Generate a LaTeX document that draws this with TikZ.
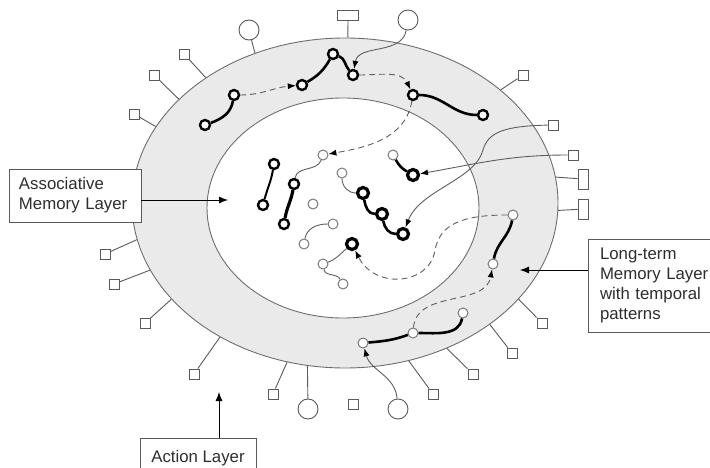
\documentclass[tikz,border=0pt]{standalone}
\usepackage{fontspec}
\setmainfont{Liberation Sans}
\usetikzlibrary{shapes.geometric,arrows.meta}
\definecolor{ringfill}{HTML}{EAEAEA}
\definecolor{ringline}{HTML}{6E6E6E}
\definecolor{portgray}{HTML}{5A5A5A}
\definecolor{wiregray}{HTML}{5E5E5E}
\definecolor{cellgray}{HTML}{7A7A7A}
\definecolor{textgray}{HTML}{2E2E2E}

\begin{document}
\begin{tikzpicture}
  [x=1pt,y=1pt,
   ring/.style={ellipse,draw=ringline,line width=0.9pt,inner sep=0pt},
   port/.style={draw=portgray,fill=white,line width=0.9pt,minimum size=10pt,inner sep=0pt},
   plug/.style={circle,draw=portgray,fill=white,line width=0.9pt,minimum size=20pt,inner sep=0pt},
   stub/.style={draw=portgray,line width=0.9pt},
   cell/.style={circle,draw=cellgray,fill=white,line width=1pt,minimum size=10pt,inner sep=0pt},
   hub/.style={circle,draw=black,fill=white,line width=2.4pt,minimum size=10pt,inner sep=0pt},
   bighub/.style={hub,line width=3.2pt,minimum size=11pt},
   link/.style={draw=black,line width=2.6pt},
   wire/.style={draw=wiregray,line width=0.9pt},
   feed/.style={wire,-{Latex[length=8pt,width=6pt,color=black]}},
   trail/.style={draw=wiregray,line width=0.9pt,dash pattern=on 6pt off 4pt,-{Latex[length=8pt,width=6pt,color=black]}},
   pointer/.style={draw=black,line width=0.9pt,-{Latex[length=9pt,width=7pt]}},
   box/.style={draw=portgray,fill=white,line width=0.9pt,text=textgray,font=\fontsize{16.8}{20}\selectfont,inner sep=0pt}]

  \useasboundingbox (0,0) rectangle (710,-468);

  \node [ring,fill=ringfill,minimum width=426pt,minimum height=330pt] (outer) at (345,-203) {};
  \node [ring,fill=white,minimum width=272pt,minimum height=220pt] (inner) at (343,-208) {};

  \node [port] (p1) at (184,-54) {};
  \node [port] (p2) at (154,-75) {};
  \node [port] (p3) at (134,-114) {};
  \node [plug] (p4) at (249,-30) {};
  \node [port,minimum width=21pt] (p5) at (348,-15) {};
  \node [port] (p6) at (523,-75) {};
  \node [port,minimum height=20pt] (p7) at (583,-179) {};
  \node [port,minimum height=20pt] (p8) at (583,-209) {};
  \node [port] (p9) at (542,-323) {};
  \node [port] (p10) at (512,-353) {};
  \node [port] (p11) at (473,-374) {};
  \node [port] (p12) at (433,-394) {};
  \node [plug] (p13) at (308,-409) {};
  \node [port] (p14) at (273,-394) {};
  \node [port] (p15) at (194,-374) {};
  \node [port] (p16) at (145,-323) {};
  \node [port] (p17) at (114,-284) {};
  \node [port] (p18) at (105,-254) {};
  \node [port] (lone) at (353,-404) {};
  \node [port] (sqA) at (553,-125) {};
  \node [port] (sqB) at (573,-155) {};
  \node [plug] (tc) at (408,-20) {};
  \node [plug] (bc) at (398,-409) {};

  \foreach \p/\a in {p1/138,p2/148,p3/158,p4/121,p5/89,p6/36,p7/7,p8/-2,p9/-29,
                     p10/-40,p11/-55,p12/-68,p13/-103,p14/-110,p15/-133,p16/-151,p17/-161,p18/-170}
    \draw [stub] (\p) -- (outer.\a);

  \node [hub] (a1) at (205,-125) {};
  \node [hub] (a2) at (234,-95) {};
  \node [hub] (b1) at (302,-85) {};
  \node [hub] (b2) at (333,-54) {};
  \node [hub] (b3) at (353,-75) {};
  \node [hub] (c1) at (413,-95) {};
  \node [hub] (c2) at (483,-115) {};
  \node [cell] (r1) at (513,-215) {};
  \node [cell] (r2) at (493,-264) {};
  \node [cell] (s1) at (363,-343) {};
  \node [cell] (s2) at (413,-333) {};
  \node [cell] (s3) at (463,-313) {};

  \node [hub] (m1) at (274,-164) {};
  \node [hub] (m2) at (263,-205) {};
  \node [hub] (m3) at (294,-184) {};
  \node [hub] (m4) at (284,-224) {};
  \node [cell] (m5) at (323,-155) {};
  \node [cell] (m6) at (313,-204) {};
  \node [cell] (m7) at (333,-224) {};
  \node [cell] (m8) at (304,-244) {};
  \node [bighub] (m9) at (352,-244) {};
  \node [cell] (m10) at (323,-264) {};
  \node [cell] (m11) at (343,-284) {};
  \node [cell] (n1) at (393,-155) {};
  \node [bighub] (n2) at (413,-175) {};
  \node [cell] (k1) at (342,-173) {};
  \node [bighub] (k2) at (363,-193) {};
  \node [bighub] (k3) at (382,-214) {};
  \node [bighub] (k4) at (403,-234) {};

  \draw [link] (a1) to[out=20,in=-100] (a2);
  \draw [link] (b1) to[out=30,in=-120] (b2);
  \draw [link] (b2) to[out=-20,in=130] (b3);
  \draw [link] (c1) to[out=0,in=180] (c2);
  \draw [link] (r1) to[out=-100,in=80] (r2);
  \draw [link] (s1) to[out=5,in=200] (s2);
  \draw [link] (s2) to[out=0,in=-100] (s3);
  \draw [link,line width=2pt] (m1) to[out=-100,in=75] (m2);
  \draw [link,line width=3.2pt] (m3) to[out=-100,in=80] (m4);
  \draw [link] (n1) to[out=-60,in=150] (n2);
  \draw [link] (k2) to[out=-80,in=180] (k3);
  \draw [link] (k3) to[out=-80,in=180] (k4);

  \draw [wire] (m3) to[out=80,in=-110] (m5);
  \draw [wire] (m7) to[out=180,in=80] (m8);
  \draw [wire] (m9) to[out=-140,in=20] (m10);
  \draw [wire] (m10) to[out=-80,in=120] (m11);
  \draw [wire] (k1) to[out=-90,in=180] (k2);

  \draw [trail] (a2) to[out=0,in=185] (b1);
  \draw [trail] (b3) to[out=0,in=115] (c1);
  \draw [trail] (c1) to[out=-100,in=10] (m5);
  \draw [trail] (r1) .. controls (460,-215) and (440,-225) .. (435,-250)
                     .. controls (430,-285) and (375,-290) .. (m9);
  \draw [trail] (s2) to[out=85,in=-100] (r2);

  \draw [feed] (tc) to[out=-100,in=80] (b3);
  \draw [feed] (bc) to[out=95,in=-75] (s1);
  \draw [feed] (sqB) to[out=180,in=10] (n2);
  \draw [feed] (sqA) .. controls (505,-126) and (488,-132) .. (483,-150)
                     .. controls (475,-180) and (420,-190) .. (k4);

  \node [box,minimum width=132pt,minimum height=53pt,text width=112pt,align=left] (assoc) at (75,-195.5)
    {Associative\\Memory Layer};
  \node [box,minimum width=140pt,minimum height=93pt,text width=116pt,align=left] (longterm) at (658,-285.5)
    {Long-term\\Memory Layer\\with temporal\\patterns};
  \node [box,minimum width=116pt,minimum height=40pt,align=center] (action) at (198,-458) {Action Layer};

  \coordinate (assocTip) at (228,-200);
  \coordinate (longTip) at (520,-270);
  \coordinate (actionTip) at (219,-392);
  \draw [pointer] (assoc.east |- assocTip) -- (assocTip);
  \draw [pointer] (longterm.west |- longTip) -- (longTip);
  \draw [pointer] (action.north -| actionTip) -- (actionTip);

\end{tikzpicture}
\end{document}
